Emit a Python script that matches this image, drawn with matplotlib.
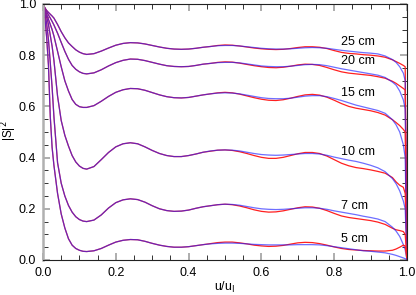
import numpy as np
import matplotlib
matplotlib.use("Agg")
import matplotlib.pyplot as plt
from matplotlib.ticker import MultipleLocator

plt.rcParams['font.family'] = ['Liberation Sans', 'DejaVu Sans']

# shared start of the curves (red and blue coincide here)
x_head = [0.0, 0.005, 0.01, 0.015, 0.02, 0.025, 0.03, 0.04, 0.05, 0.06, 0.07,
          0.08, 0.09, 0.10, 0.11, 0.12, 0.14, 0.16, 0.18, 0.20, 0.22, 0.24,
          0.26, 0.28, 0.30, 0.32, 0.34, 0.36, 0.38, 0.40, 0.42, 0.44]
# the part where the two models separate
x_tail = [0.46, 0.48, 0.50, 0.52, 0.54, 0.56, 0.58, 0.60, 0.62, 0.64, 0.66,
          0.68, 0.70, 0.72, 0.74, 0.76, 0.78, 0.80, 0.82, 0.84, 0.86, 0.88,
          0.90, 0.92, 0.94, 0.96, 0.97, 0.98, 0.99, 0.995, 1.0]

labels = ["25 cm", "20 cm", "15 cm", "10 cm", "7 cm", "5 cm"]
label_y = [0.85, 0.777, 0.652, 0.42, 0.211, 0.082]

head_25 = [1.0, 0.985, 0.975, 0.967, 0.96, 0.953, 0.945, 0.92, 0.892, 0.868,
           0.848, 0.834, 0.821, 0.812, 0.806, 0.803, 0.806, 0.816, 0.828,
           0.839, 0.846, 0.849, 0.848, 0.844, 0.838, 0.832, 0.827, 0.824,
           0.823, 0.824, 0.827, 0.831]
blue_25 = [0.834, 0.837, 0.838, 0.838, 0.836, 0.833, 0.83, 0.827, 0.825,
           0.824, 0.824, 0.825, 0.827, 0.829, 0.83, 0.829, 0.827, 0.823,
           0.819, 0.816, 0.813, 0.81, 0.808, 0.805, 0.797, 0.783, 0.772,
           0.755, 0.73, 0.7, 0.0]
red_25 = [0.834, 0.838, 0.84, 0.839, 0.836, 0.832, 0.828, 0.825, 0.823, 0.822,
          0.823, 0.826, 0.83, 0.833, 0.833, 0.831, 0.826, 0.818, 0.811, 0.807,
          0.805, 0.802, 0.8, 0.797, 0.792, 0.782, 0.775, 0.768, 0.76, 0.755,
          0.0]

head_20 = [1.0, 0.985, 0.97, 0.957, 0.945, 0.932, 0.918, 0.886, 0.85, 0.815,
           0.784, 0.76, 0.745, 0.735, 0.729, 0.727, 0.731, 0.743, 0.758,
           0.771, 0.78, 0.785, 0.784, 0.779, 0.772, 0.765, 0.759, 0.756,
           0.755, 0.756, 0.76, 0.765]
blue_20 = [0.768, 0.771, 0.772, 0.772, 0.77, 0.766, 0.762, 0.758, 0.756,
           0.755, 0.755, 0.757, 0.76, 0.763, 0.764, 0.763, 0.759, 0.753,
           0.747, 0.742, 0.737, 0.732, 0.727, 0.722, 0.713, 0.695, 0.683,
           0.66, 0.625, 0.59, 0.0]
red_20 = [0.768, 0.772, 0.774, 0.773, 0.769, 0.764, 0.759, 0.755, 0.752, 0.751,
          0.753, 0.757, 0.762, 0.765, 0.764, 0.76, 0.752, 0.743, 0.735, 0.73,
          0.727, 0.724, 0.721, 0.716, 0.71, 0.698, 0.69, 0.68, 0.67, 0.664,
          0.0]

head_15 = [1.0, 0.98, 0.96, 0.94, 0.92, 0.9, 0.875, 0.815, 0.755, 0.70, 0.66,
           0.627, 0.608, 0.599, 0.596, 0.596, 0.603, 0.62, 0.639, 0.655,
           0.665, 0.67, 0.669, 0.663, 0.654, 0.645, 0.638, 0.634, 0.633,
           0.635, 0.64, 0.645]
blue_15 = [0.649, 0.652, 0.653, 0.652, 0.649, 0.644, 0.639, 0.634, 0.631,
           0.63, 0.63, 0.632, 0.636, 0.64, 0.642, 0.642, 0.638, 0.631, 0.623,
           0.614, 0.605, 0.598, 0.591, 0.584, 0.573, 0.548, 0.528, 0.5, 0.45,
           0.4, 0.0]
red_15 = [0.649, 0.653, 0.655, 0.653, 0.648, 0.641, 0.634, 0.628, 0.624, 0.623,
          0.626, 0.632, 0.639, 0.645, 0.647, 0.644, 0.636, 0.624, 0.611, 0.60,
          0.593, 0.588, 0.583, 0.576, 0.566, 0.548, 0.537, 0.525, 0.51, 0.5,
          0.0]

head_10 = [1.0, 0.975, 0.95, 0.92, 0.877, 0.835, 0.78, 0.64, 0.545, 0.487,
           0.445, 0.408, 0.383, 0.367, 0.358, 0.355, 0.365, 0.392, 0.42,
           0.442, 0.454, 0.458, 0.454, 0.442, 0.428, 0.416, 0.408, 0.404,
           0.404, 0.408, 0.414, 0.421]
blue_10 = [0.426, 0.429, 0.43, 0.429, 0.426, 0.421, 0.416, 0.412, 0.41, 0.409,
           0.41, 0.412, 0.414, 0.416, 0.416, 0.414, 0.409, 0.402, 0.396, 0.39,
           0.385, 0.378, 0.37, 0.36, 0.345, 0.318, 0.298, 0.27, 0.23, 0.2,
           0.0]
red_10 = [0.425, 0.429, 0.43, 0.428, 0.423, 0.416, 0.408, 0.401, 0.397, 0.397,
          0.401, 0.408, 0.415, 0.42, 0.42, 0.416, 0.406, 0.392, 0.378, 0.368,
          0.361, 0.357, 0.352, 0.346, 0.339, 0.322, 0.305, 0.292, 0.284, 0.26,
          0.0]

head_7 = [1.0, 0.965, 0.925, 0.86, 0.77, 0.675, 0.56, 0.38, 0.3, 0.25, 0.213,
          0.187, 0.169, 0.158, 0.152, 0.15, 0.156, 0.176, 0.203, 0.224, 0.235,
          0.239, 0.236, 0.226, 0.212, 0.2, 0.193, 0.19, 0.191, 0.195, 0.202,
          0.208]
blue_7 = [0.212, 0.216, 0.218, 0.217, 0.214, 0.209, 0.204, 0.2, 0.198, 0.197,
          0.198, 0.2, 0.202, 0.204, 0.204, 0.202, 0.198, 0.192, 0.187, 0.182,
          0.177, 0.171, 0.166, 0.16, 0.15, 0.128, 0.113, 0.092, 0.06, 0.04,
          0.0]
red_7 = [0.212, 0.216, 0.218, 0.216, 0.211, 0.204, 0.196, 0.19, 0.187, 0.188,
         0.192, 0.198, 0.204, 0.208, 0.207, 0.202, 0.193, 0.182, 0.172, 0.166,
         0.162, 0.158, 0.154, 0.148, 0.139, 0.124, 0.118, 0.115, 0.111, 0.1,
         0.0]

head_5 = [1.0, 0.95, 0.87, 0.76, 0.56, 0.44, 0.37, 0.26, 0.18, 0.125, 0.083,
          0.058, 0.045, 0.038, 0.034, 0.033, 0.036, 0.045, 0.058, 0.07, 0.077,
          0.08, 0.079, 0.073, 0.065, 0.058, 0.053, 0.05, 0.05, 0.052, 0.056,
          0.06]
blue_5 = [0.063, 0.065, 0.066, 0.066, 0.065, 0.063, 0.061, 0.06, 0.059, 0.059,
          0.059, 0.059, 0.06, 0.06, 0.06, 0.059, 0.056, 0.052, 0.048, 0.044,
          0.04, 0.036, 0.034, 0.031, 0.028, 0.022, 0.018, 0.013, 0.008, 0.005,
          0.003]
red_5 = [0.064, 0.068, 0.07, 0.07, 0.067, 0.063, 0.058, 0.055, 0.053, 0.054,
         0.057, 0.062, 0.067, 0.069, 0.068, 0.064, 0.058, 0.051, 0.045, 0.041,
         0.039, 0.037, 0.036, 0.035, 0.035, 0.038, 0.043, 0.05, 0.058, 0.055,
         0.0]

heads = [head_25, head_20, head_15, head_10, head_7, head_5]
blues = [blue_25, blue_20, blue_15, blue_10, blue_7, blue_5]
reds = [red_25, red_20, red_15, red_10, red_7, red_5]

fig = plt.figure(figsize=(4.16, 2.95), dpi=100)
ax = fig.add_axes([43 / 416, 35 / 295, 364 / 416, 256 / 295])

x_all = np.array(x_head + x_tail)
for head, blue, red in zip(heads, blues, reds):
    ax.plot(x_all, head + red, color='#ff2020', lw=0.9)
    ax.plot(x_all, head + blue, color='#2020ff', lw=0.9, alpha=0.65)

for lab, yy in zip(labels, label_y):
    ax.text(0.82, yy, lab, fontsize=9, va='center', ha='left')

ax.set_xlim(0, 1)
ax.set_ylim(0, 1)
ax.xaxis.set_major_locator(MultipleLocator(0.2))
ax.xaxis.set_minor_locator(MultipleLocator(0.05))
ax.yaxis.set_major_locator(MultipleLocator(0.2))
ax.yaxis.set_minor_locator(MultipleLocator(0.05))
ax.tick_params(which='both', direction='in', top=True, right=True,
               labelsize=9)
ax.tick_params(which='major', length=5, width=1.2, color='#a0a0a0', pad=5)
ax.tick_params(which='minor', length=3.5, width=0.7, color='#333333')
ax.xaxis.set_major_formatter(plt.FormatStrFormatter('%.1f'))
ax.yaxis.set_major_formatter(plt.FormatStrFormatter('%.1f'))
for side in ['top', 'right', 'bottom']:
    ax.spines[side].set_linewidth(0.8)
    ax.spines[side].set_color('#222222')
ax.spines['left'].set_linewidth(1.8)
ax.spines['left'].set_color('#b0b0b0')

ax.set_xlabel(r'u/u$_\mathrm{l}$', fontsize=9, labelpad=1)
# y label placed by hand so it sits just inside the left edge
fig.text(9.5 / 416, 0.556, r'|S|$^2$', fontsize=8.5, rotation=90,
         ha='center', va='center')

fig.savefig('out.png', dpi=100)
